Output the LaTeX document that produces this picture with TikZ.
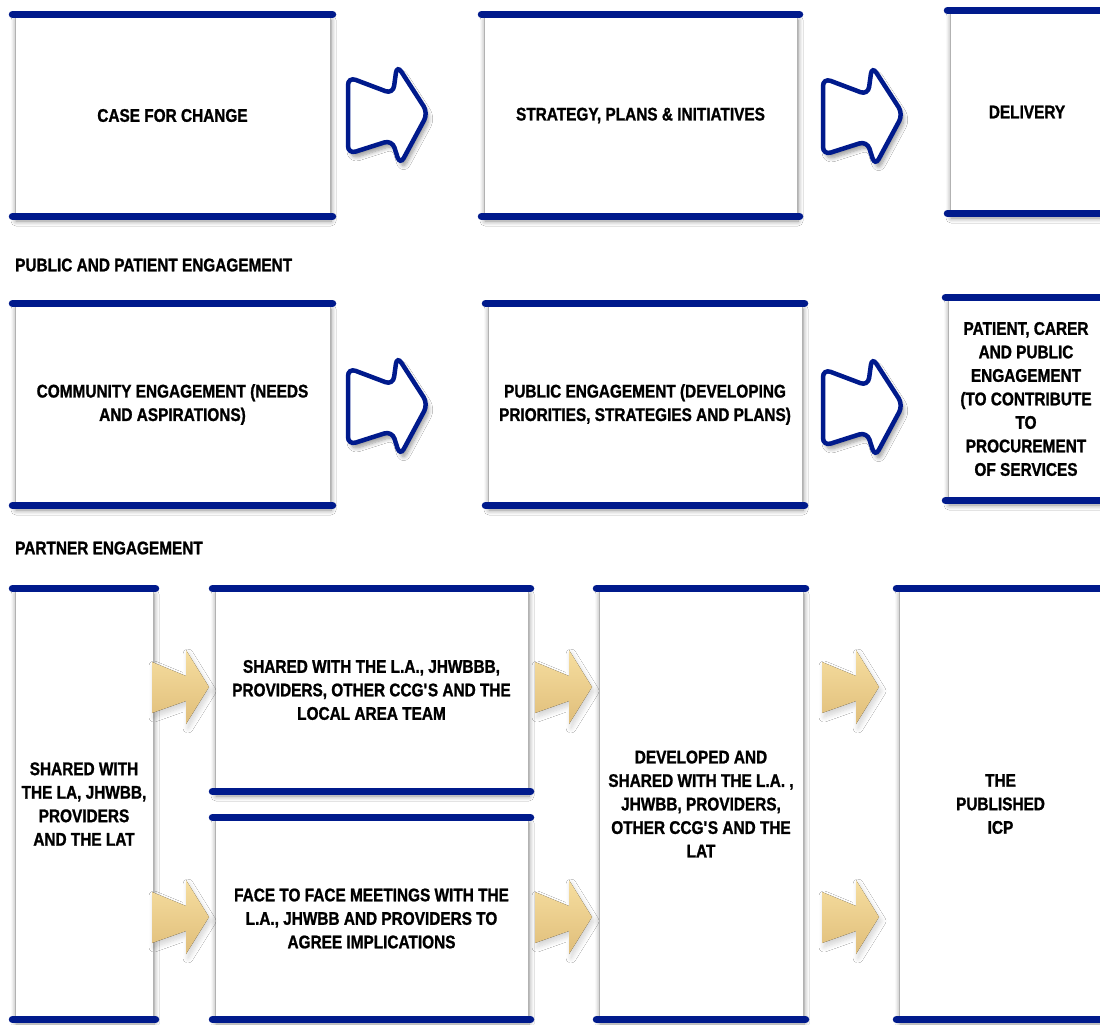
\documentclass[tikz,border=0pt]{standalone}
\usepackage{fontspec}
\setmainfont{Liberation Sans}[FakeStretch=0.84, BoldFeatures={FakeBold=1.2}]
\usetikzlibrary{shadows.blur}
\definecolor{navy}{RGB}{0,26,140}
\definecolor{goldL}{RGB}{246,222,160}
\definecolor{goldD}{RGB}{224,190,122}
\tikzset{
  txt/.style={font=\bfseries\fontsize{18.3}{23.5}\selectfont},
  box/.style={txt, draw=black!30, line width=1pt, fill=white, inner sep=0pt, align=center,
    blur shadow={shadow xshift=1pt, shadow yshift=-5pt, shadow blur radius=5pt, shadow blur steps=8, shadow opacity=45}},
  bar/.style={draw=navy, line width=7.5pt, line cap=round},
  sectionlabel/.style={txt, anchor=west, inner sep=0pt},
  bluearrow/.pic={
    \draw[navy, line width=4.5pt, fill=white, rounded corners=8pt,
      blur shadow={shadow xshift=3pt, shadow yshift=-5pt, shadow blur radius=4pt, shadow blur steps=8, shadow opacity=40}]
      (3,2) -- (3,-36) -- (48,-19) -- (52,-48) -- (83,0) -- (55,52) -- (47,27) -- (3,41) -- cycle;
  },
  goldarrow/.pic={
    \fill[top color=goldL, bottom color=goldD,
      blur shadow={shadow xshift=2pt, shadow yshift=-4pt, shadow blur radius=5pt, shadow blur steps=8, shadow opacity=18}]
      (0,-25) -- (34,-11) -- (34,-37) -- (57,0) -- (34,37) -- (34,14) -- (0,26) -- cycle;
  }
}
% #1 name, #2 x1, #3 x2, #4 ytop, #5 ybot, #6 text
\newcommand{\sketchbox}[6]{%
  \node[box, minimum width={(#3-#2)*1pt}, minimum height={(#5-#4)*1pt}] (#1) at ({(#2+#3)/2},{(#4+#5)/2}) {#6};
  \draw[bar] ([xshift=-2pt]#1.north west) -- ([xshift=2pt]#1.north east);
  \draw[bar] ([xshift=-2pt]#1.south west) -- ([xshift=2pt]#1.south east);
}
\begin{document}
\begin{tikzpicture}[x=1pt,y=-1pt]
\useasboundingbox (0,0) rectangle (1100,1025);
\clip (0,0) rectangle (1100,1025);
\fill[white] (0,0) rectangle (1100,1025);

% Row 1
\sketchbox{A}{15}{330}{15}{216}{CASE FOR CHANGE}
\sketchbox{B}{484}{797}{15}{216}{STRATEGY, PLANS \& INITIATIVES}
\sketchbox{C}{950}{1104}{11}{213}{DELIVERY}
\pic at (345,113) {bluearrow};
\pic at (820,114) {bluearrow};

% Row 2
\node[sectionlabel] (L1) at (15,265) {PUBLIC AND PATIENT ENGAGEMENT};
\sketchbox{D}{15}{330}{304}{505}{COMMUNITY ENGAGEMENT (NEEDS\\AND ASPIRATIONS)}
\sketchbox{E}{488}{802}{304}{505}{PUBLIC ENGAGEMENT (DEVELOPING\\PRIORITIES, STRATEGIES AND PLANS)}
\sketchbox{F}{948}{1104}{298}{500}{PATIENT, CARER\\AND PUBLIC\\ENGAGEMENT\\(TO CONTRIBUTE\\TO\\PROCUREMENT\\OF SERVICES}
\pic at (345,404) {bluearrow};
\pic at (820,405) {bluearrow};

% Row 3
\node[sectionlabel] (L2) at (15,548) {PARTNER ENGAGEMENT};
\sketchbox{G}{15}{153}{589}{1019}{SHARED WITH\\THE LA, JHWBB,\\PROVIDERS\\AND THE LAT}
\sketchbox{H}{215}{528}{589}{791}{SHARED WITH THE L.A., JHWBBB,\\PROVIDERS, OTHER CCG\textquotesingle S AND THE\\LOCAL AREA TEAM}
\sketchbox{I}{215}{528}{818}{1019}{FACE TO FACE MEETINGS WITH THE\\L.A., JHWBB AND PROVIDERS TO\\AGREE IMPLICATIONS}
\sketchbox{J}{599}{803}{589}{1019}{DEVELOPED AND\\SHARED WITH THE L.A. ,\\JHWBB, PROVIDERS,\\OTHER CCG\textquotesingle S AND THE\\LAT}
\sketchbox{K}{899}{1102}{589}{1019}{THE\\PUBLISHED\\ICP}

\pic at (152,687) {goldarrow};
\pic at (152,917) {goldarrow};
\pic at (535,687) {goldarrow};
\pic at (535,917) {goldarrow};
\pic at (822,687) {goldarrow};
\pic at (822,917) {goldarrow};
\end{tikzpicture}
\end{document}
